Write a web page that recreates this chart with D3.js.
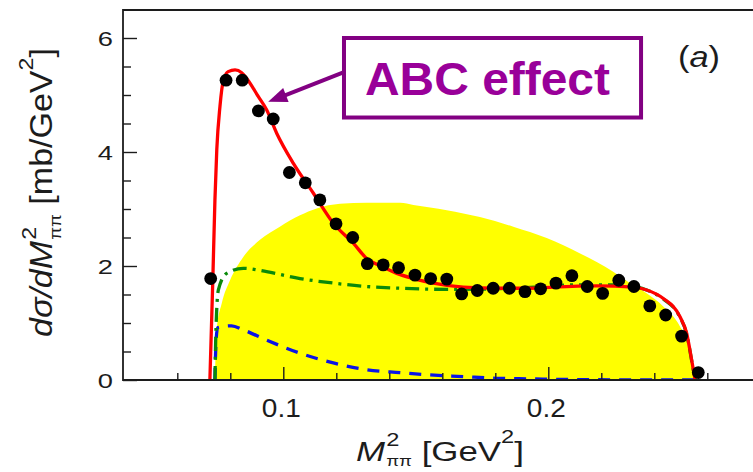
<!DOCTYPE html>
<html>
<head>
<meta charset="utf-8">
<script src="https://cdn.jsdelivr.net/npm/d3@7"></script>
<style>
  html, body { margin: 0; padding: 0; background: #fff; }
  svg { display: block; font-family: "Liberation Sans", Arial, Helvetica, sans-serif; }
</style>
</head>
<body>
<svg id="chart" width="753" height="472"></svg>
<script>
// ---- measured dσ/dM²ππ points ----
const dataM2 = [0.0726, 0.0784, 0.0845, 0.0906, 0.0962, 0.1023, 0.1083, 0.1138, 0.1199, 0.1262,
                0.1317, 0.1377, 0.1435, 0.1497, 0.1556, 0.1617, 0.1673, 0.1732, 0.1792, 0.1853,
                0.1912, 0.1971, 0.2029, 0.2089, 0.2147, 0.2205, 0.2266, 0.2323, 0.2383, 0.2443,
                0.2503, 0.2566];
const dataSigma = [1.78, 5.26, 5.26, 4.72, 4.58, 3.64, 3.46, 3.16, 2.74, 2.50,
                   2.04, 2.02, 1.97, 1.84, 1.78, 1.77, 1.51, 1.57, 1.61, 1.61,
                   1.55, 1.60, 1.70, 1.83, 1.64, 1.52, 1.75, 1.64, 1.30, 1.14,
                   0.77, 0.13];

// ---- full calculation (solid red) ----
const fitM2 = [0.0723, 0.0734, 0.0742, 0.0749, 0.0761, 0.0774, 0.0792, 0.0818, 0.0843, 0.0862,
               0.0906, 0.0937, 0.0975, 0.1038, 0.1113, 0.1189, 0.1264, 0.1315, 0.1377, 0.1428,
               0.1491, 0.1566, 0.1679, 0.1805, 0.1931, 0.2019, 0.2183, 0.2321, 0.2371, 0.2434,
               0.2497, 0.2522, 0.2541, 0.2554];
const fitSigma = [0, 1.75, 3.16, 4.04, 4.80, 5.26, 5.41, 5.44, 5.39, 5.29,
                  4.97, 4.74, 4.33, 3.80, 3.28, 2.75, 2.40, 2.13, 1.98, 1.87,
                  1.78, 1.70, 1.63, 1.61, 1.61, 1.63, 1.65, 1.63, 1.58, 1.43,
                  1.11, 0.82, 0.35, 0];

// ---- phase space (yellow area) ----
const phaseM2 = [0.0742, 0.0749, 0.0768, 0.0799, 0.0849, 0.0912, 0.0987, 0.1063, 0.1126, 0.1214,
                 0.1315, 0.1441, 0.1491, 0.1617, 0.1742, 0.1868, 0.1994, 0.2120, 0.2245, 0.2308,
                 0.2371, 0.2434, 0.2497, 0.2535, 0.2554];
const phaseSigma = [0, 0.88, 1.35, 1.75, 2.16, 2.46, 2.69, 2.89, 3.01, 3.09,
                    3.11, 3.11, 3.07, 2.98, 2.86, 2.69, 2.49, 2.22, 1.90, 1.70,
                    1.52, 1.29, 0.94, 0.53, 0];

// ---- dash-dot (green) ----
const dashDotM2 = [0.0742, 0.0746, 0.0755, 0.0786, 0.0849, 0.0937, 0.1063, 0.1189, 0.1315, 0.1440,
                   0.1617, 0.1800, 0.1950, 0.2100, 0.2250, 0.2321, 0.2371, 0.2434, 0.2497, 0.2522,
                   0.2541, 0.2554];
const dashDotSigma = [0, 0.90, 1.58, 1.87, 1.96, 1.90, 1.78, 1.70, 1.64, 1.61,
                      1.59, 1.60, 1.63, 1.67, 1.67, 1.64, 1.58, 1.42, 1.10, 0.81,
                      0.34, 0];

// ---- dashed (blue) ----
const dashedM2 = [0.0742, 0.0745, 0.0752, 0.0805, 0.0849, 0.0937, 0.1063, 0.1189, 0.1315, 0.1440,
                  0.1553, 0.1679, 0.1805, 0.1931, 0.2055, 0.2183, 0.2308, 0.2554];
const dashedSigma = [0, 0.55, 0.92, 0.95, 0.88, 0.70, 0.47, 0.30, 0.18, 0.13,
                     0.09, 0.06, 0.03, 0.02, 0.01, 0.005, 0, 0];

// ---- axis ticks ----
const xMajorTicks = [0.1, 0.2];
const xTickLabels = ["0.1", "0.2"];
const xMinorTicks = [0.06, 0.08, 0.12, 0.14, 0.16, 0.18, 0.22, 0.24, 0.26];
const yMajorTicks = [0, 2, 4, 6];
const yTickLabels = ["0", "2", "4", "6"];
const yMinorTicks = [0.5, 1, 1.5, 2.5, 3, 3.5, 4.5, 5, 5.5];

// ---- annotation ----
const noteText = "ABC effect";
const noteBox = { x0: 0.1229, x1: 0.2350, y0: 4.605, y1: 6.0 };
const noteArrow = { tail: [0.1229, 5.40], tip: [0.0943, 4.88] };
const panelTag = ["(", "a", ")"];

const svg = d3.select("#chart");
const frame = { left: 123, top: 10, bottom: 380, right: 800 };

const x = d3.scaleLinear().domain([0.1, 0.2]).range([283.3, 548.3]);
const y = d3.scaleLinear().domain([0, 6]).range([380, 38]);

const ink = "#1c1c1c";
const purple = "#820082";
const purpleText = "#990099";

const plot = svg.append("g");
plot.append("clipPath").attr("id", "plotClip")
  .append("rect").attr("x", frame.left).attr("y", frame.top)
  .attr("width", frame.right - frame.left).attr("height", frame.bottom - frame.top);
const inner = plot.append("g").attr("clip-path", "url(#plotClip)");

// yellow phase-space area
const phase = d3.zip(phaseM2, phaseSigma);
inner.append("path")
  .datum(phase)
  .attr("fill", "#ffff00")
  .attr("d", d3.area().x(d => x(d[0])).y0(y(0)).y1(d => y(d[1])).curve(d3.curveMonotoneX));

const lineGen = d3.line().x(d => x(d[0])).y(d => y(d[1])).curve(d3.curveMonotoneX);

// blue dashed
inner.append("path")
  .datum(d3.zip(dashedM2, dashedSigma))
  .attr("fill", "none").attr("stroke", "#0a14e6").attr("stroke-width", 3.3)
  .attr("stroke-dasharray", "12,9")
  .attr("d", lineGen);

// green dash-dot
inner.append("path")
  .datum(d3.zip(dashDotM2, dashDotSigma))
  .attr("fill", "none").attr("stroke", "#0a8a0a").attr("stroke-width", 3.3)
  .attr("stroke-dasharray", "14,6,3,6")
  .attr("d", lineGen);

// red full curve
inner.append("path")
  .datum(d3.zip(fitM2, fitSigma))
  .attr("fill", "none").attr("stroke", "#ff0000").attr("stroke-width", 3.3)
  .attr("stroke-linejoin", "round")
  .attr("d", lineGen);

// data points
inner.selectAll("circle.pt")
  .data(d3.zip(dataM2, dataSigma))
  .join("circle")
  .attr("class", "pt")
  .attr("cx", d => x(d[0])).attr("cy", d => y(d[1]))
  .attr("r", 6.4).attr("fill", "#000");

// ticks (pointing into the frame)
const axisG = plot.append("g");
const xMajor = axisG.append("g").attr("transform", `translate(0,${frame.bottom})`)
  .call(d3.axisBottom(x).tickValues(xMajorTicks).tickSize(-13).tickFormat(""));
const xMinor = axisG.append("g").attr("transform", `translate(0,${frame.bottom})`)
  .call(d3.axisBottom(x).tickValues(xMinorTicks).tickSize(-7).tickFormat(""));
const yMajor = axisG.append("g").attr("transform", `translate(${frame.left},0)`)
  .call(d3.axisLeft(y).tickValues(yMajorTicks).tickSize(-14).tickFormat(""));
const yMinor = axisG.append("g").attr("transform", `translate(${frame.left},0)`)
  .call(d3.axisLeft(y).tickValues(yMinorTicks).tickSize(-8).tickFormat(""));
[xMajor, xMinor, yMajor, yMinor].forEach(g => {
  g.select(".domain").remove();
  g.selectAll("line").attr("stroke", ink).attr("stroke-width", 1.4);
});

// frame
plot.append("path")
  .attr("d", `M${frame.right},${frame.top}H${frame.left}V${frame.bottom}H${frame.right}`)
  .attr("fill", "none").attr("stroke", ink).attr("stroke-width", 1.8);

// tick labels
const labels = svg.append("g").attr("fill", ink);
labels.selectAll("text.xl")
  .data(d3.zip(xMajorTicks, xTickLabels))
  .join("text")
  .attr("class", "xl")
  .attr("transform", d => `translate(${x(d[0]) - 2},416.5) scale(1.12,1)`)
  .attr("text-anchor", "middle").attr("font-size", 25)
  .text(d => d[1]);
labels.selectAll("text.yl")
  .data(d3.zip(yMajorTicks, yTickLabels))
  .join("text")
  .attr("class", "yl")
  .attr("transform", d => `translate(113,${y(d[0]) + 7.5}) scale(1.3,1)`)
  .attr("text-anchor", "end").attr("font-size", 21)
  .text(d => d[1]);

// x title:  M²ππ [GeV²]
const xt = svg.append("g");
const xText = xt.append("text").attr("font-size", 28).attr("fill", ink);
xText.append("tspan").attr("font-style", "italic").text("M");
xText.append("tspan").attr("font-size", 19).attr("dx", 1).attr("dy", -15).text("2");
xText.append("tspan").attr("font-size", 15).attr("dx", -10.6).attr("dy", 20).text("ππ");
xText.append("tspan").attr("dy", -5).text("\u00a0[GeV");
xText.append("tspan").attr("font-size", 19).attr("dy", -18).text("2");
xText.append("tspan").attr("dy", 18).text("]");
{
  const b = xText.node().getBBox();
  const sx = 168 / b.width;
  xt.attr("transform", `translate(${356 - b.x * sx},461) scale(${sx},1)`);
}

// y title:  dσ/dM²ππ [mb/GeV²]  (rotated)
const yt = svg.append("g");
const yText = yt.append("text").attr("font-size", 31).attr("fill", ink);
yText.append("tspan").attr("font-style", "italic").text("dσ/dM");
yText.append("tspan").attr("font-size", 21).attr("dx", 1).attr("dy", -16).text("2");
yText.append("tspan").attr("font-size", 17).attr("dx", -11.7).attr("dy", 25).text("ππ");
yText.append("tspan").attr("dy", -9).text("\u00a0[mb/GeV");
yText.append("tspan").attr("font-size", 21).attr("dy", -19).text("2");
yText.append("tspan").attr("dy", 19).text("]");
{
  const b = yText.node().getBBox();
  const sx = 289 / b.width;
  yt.attr("transform", `translate(52,${337 + b.x * sx}) rotate(-90) scale(${sx},1)`);
}

// panel tag (a)
const tag = svg.append("g");
const tagText = tag.append("text").attr("font-size", 30).attr("fill", ink);
tagText.selectAll("tspan").data(panelTag).join("tspan")
  .attr("font-style", (d, i) => i === 1 ? "italic" : "normal")
  .text(d => d);
{
  const b = tagText.node().getBBox();
  const sx = 42 / b.width;
  tag.attr("transform", `translate(${678 - b.x * sx},67) scale(${sx},1)`);
}

// annotation box + arrow
const note = svg.append("g");
note.append("rect")
  .attr("x", x(noteBox.x0)).attr("y", y(noteBox.y1))
  .attr("width", x(noteBox.x1) - x(noteBox.x0))
  .attr("height", y(noteBox.y0) - y(noteBox.y1))
  .attr("fill", "#fff").attr("stroke", purple).attr("stroke-width", 4);
note.append("text")
  .attr("x", x(noteBox.x0) + 21).attr("y", 95)
  .attr("font-size", 46).attr("font-weight", "bold").attr("fill", purpleText)
  .attr("textLength", 245).attr("lengthAdjust", "spacingAndGlyphs")
  .text(noteText);

{
  const tip = [x(noteArrow.tip[0]), y(noteArrow.tip[1])];
  const tail = [x(noteArrow.tail[0]), y(noteArrow.tail[1])];
  const dx = tail[0] - tip[0], dy = tail[1] - tip[1];
  const L = Math.hypot(dx, dy);
  const ux = dx / L, uy = dy / L;
  const px = -uy, py = ux;
  const headLen = 19, headHalf = 7.5;
  const base = [tip[0] + ux * headLen, tip[1] + uy * headLen];
  note.append("line")
    .attr("x1", tail[0]).attr("y1", tail[1])
    .attr("x2", base[0] - ux * 1).attr("y2", base[1] - uy * 1)
    .attr("stroke", purple).attr("stroke-width", 4);
  note.append("path")
    .attr("d", `M${tip[0]},${tip[1]}L${base[0] + px * headHalf},${base[1] + py * headHalf}L${base[0] - px * headHalf},${base[1] - py * headHalf}Z`)
    .attr("fill", purple);
}
</script>
</body>
</html>
